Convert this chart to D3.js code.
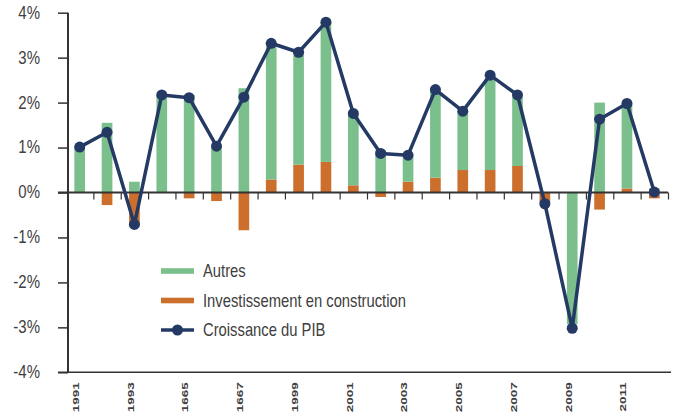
<!DOCTYPE html>
<html>
<head>
<meta charset="utf-8">
<script src="https://cdn.jsdelivr.net/npm/d3@7"></script>
<style>
  body { margin: 0; background: #fff; }
  svg text { font-family: "Liberation Sans", Arial, sans-serif; fill: #404040; }
</style>
</head>
<body>
<svg id="svg"></svg>
<script>
  // values (% contribution to GDP growth)
  const years = ["1991","1992","1993","1994","1995","1996","1997","1998","1999","2000","2001",
                 "2002","2003","2004","2005","2006","2007","2008","2009","2010","2011","2012"];
  const autres =       [1.00, 1.55, 0.24, 2.17, 2.17, 1.00, 2.32, 3.04, 2.51, 3.12, 1.60,
                        0.94, 0.56, 1.96, 1.31, 2.04, 1.53, 0.00, -2.93, 2.00, 1.89, 0.09];
  const construction = [0.00, -0.28, -0.74, 0.00, -0.13, -0.19, -0.84, 0.29, 0.62, 0.68, 0.16,
                        -0.10, 0.24, 0.33, 0.50, 0.50, 0.59, -0.22, 0.00, -0.38, 0.09, -0.13];
  const croissance =   [1.01, 1.34, -0.71, 2.17, 2.11, 1.03, 2.12, 3.32, 3.12, 3.79, 1.76,
                        0.87, 0.83, 2.29, 1.81, 2.61, 2.17, -0.25, -3.02, 1.63, 1.98, 0.01];

  const yTicks = [-4, -3, -2, -1, 0, 1, 2, 3, 4];
  const labelYears = ["1991","1993","1995","1997","1999","2001","2003","2005","2007","2009","2011"];
  const labelTexts = ["1991","1993","1665","1667","1999","2001","2003","2005","2007","2009","2011"];
  const legendLabels = ["Autres", "Investissement en construction", "Croissance du PIB"];

  const colGreen = "#7bbf8c";
  const colOrange = "#cc6f2d";
  const colNavy = "#243a65";
  const colAxis = "#333";

  const svg = d3.select("#svg")
      .attr("width", 678)
      .attr("height", 413);

  const xScale = d3.scaleBand()
      .domain(years)
      .range([66, 668])
      .paddingInner(0.61)
      .paddingOuter(0.305);

  const xEdge = d3.scaleLinear()
      .domain([0, years.length])
      .range([66, 668]);

  const yScale = d3.scaleLinear()
      .domain([-4, 4])
      .range([372.3, 12.7]);

  const cx = d => xScale(d) + xScale.bandwidth() / 2;

  // stacked bars
  const rows = years.map((y, i) => ({ year: y, construction: construction[i], autres: autres[i] }));
  const series = d3.stack()
      .keys(["construction", "autres"])
      .offset(d3.stackOffsetDiverging)(rows);
  const colors = { construction: colOrange, autres: colGreen };

  svg.append("g").selectAll("g")
    .data(series)
    .enter().append("g")
      .attr("fill", s => colors[s.key])
    .selectAll("rect")
    .data(s => s)
    .enter().append("rect")
      .attr("x", d => xScale(d.data.year))
      .attr("width", xScale.bandwidth())
      .attr("y", d => yScale(Math.max(d[0], d[1])))
      .attr("height", d => Math.abs(yScale(d[0]) - yScale(d[1])));

  // y axis
  const yAxis = svg.append("g")
      .attr("transform", "translate(68,0)")
      .call(d3.axisLeft(yScale).tickValues(yTicks).tickSize(10).tickPadding(18)
            .tickFormat(d => d + "%"));
  yAxis.select(".domain").remove();
  yAxis.selectAll(".tick line").attr("stroke", colAxis).attr("stroke-width", 1.5);
  yAxis.selectAll(".tick text")
      .attr("font-size", 15)
      .attr("dy", "0.3em")
      .attr("transform", "scale(1,1.2)");
  svg.append("line")
      .attr("x1", 68).attr("x2", 68)
      .attr("y1", yScale(4)).attr("y2", yScale(-4))
      .attr("stroke", colAxis).attr("stroke-width", 2);

  // zero line with category boundary ticks
  const zeroAxis = svg.append("g")
      .attr("transform", `translate(0,${yScale(0)})`)
      .call(d3.axisBottom(xEdge).tickValues(d3.range(1, years.length + 1)).tickSize(7).tickFormat(""));
  zeroAxis.select(".domain").remove();
  zeroAxis.selectAll(".tick line").attr("stroke", colAxis).attr("stroke-width", 1.2);
  svg.append("line")
      .attr("x1", 58).attr("x2", 668)
      .attr("y1", yScale(0)).attr("y2", yScale(0))
      .attr("stroke", colAxis).attr("stroke-width", 2);

  // bottom axis with rotated year labels
  const xAxis = svg.append("g")
      .attr("transform", `translate(0,${yScale(-4)})`)
      .call(d3.axisBottom(xScale).tickValues(labelYears).tickSize(0)
            .tickFormat(d => labelTexts[labelYears.indexOf(d)]));
  xAxis.select(".domain").remove();
  xAxis.selectAll(".tick text")
      .attr("font-size", 13.5)
      .attr("font-weight", "bold")
      .attr("text-anchor", "end")
      .attr("dy", 0)
      .attr("y", 0)
      .attr("transform", "translate(-0.7,10) rotate(-90) scale(1,0.72)");
  svg.append("line")
      .attr("x1", 58).attr("x2", 671)
      .attr("y1", yScale(-4)).attr("y2", yScale(-4))
      .attr("stroke", colAxis).attr("stroke-width", 1.5);

  // GDP line
  svg.append("path")
      .datum(croissance)
      .attr("fill", "none")
      .attr("stroke", colNavy)
      .attr("stroke-width", 3.5)
      .attr("stroke-linejoin", "round")
      .attr("d", d3.line()
        .x((d, i) => cx(years[i]))
        .y(d => yScale(d)));

  svg.append("g").selectAll("circle")
      .data(croissance)
      .enter().append("circle")
      .attr("cx", (d, i) => cx(years[i]))
      .attr("cy", d => yScale(d))
      .attr("r", 5.5)
      .attr("fill", colNavy);

  // legend
  const legend = svg.append("g");
  const legendY = [271, 300.5, 330];
  legendLabels.forEach((label, i) => {
    const row = legend.append("g").attr("transform", `translate(161,${legendY[i]})`);
    if (i < 2) {
      row.append("rect")
        .attr("x", 0).attr("y", -2.8)
        .attr("width", 33).attr("height", 5.6)
        .attr("fill", i === 0 ? colGreen : colOrange);
    } else {
      row.append("line")
        .attr("x1", 0).attr("x2", 33)
        .attr("stroke", colNavy).attr("stroke-width", 3.5);
      row.append("circle")
        .attr("cx", 16.5).attr("r", 5.5)
        .attr("fill", colNavy);
    }
    row.append("g")
        .attr("transform", "translate(42,0) scale(1,1.2)")
      .append("text")
        .attr("font-size", 14.8)
        .attr("dy", "0.36em")
        .text(label);
  });
</script>
</body>
</html>
